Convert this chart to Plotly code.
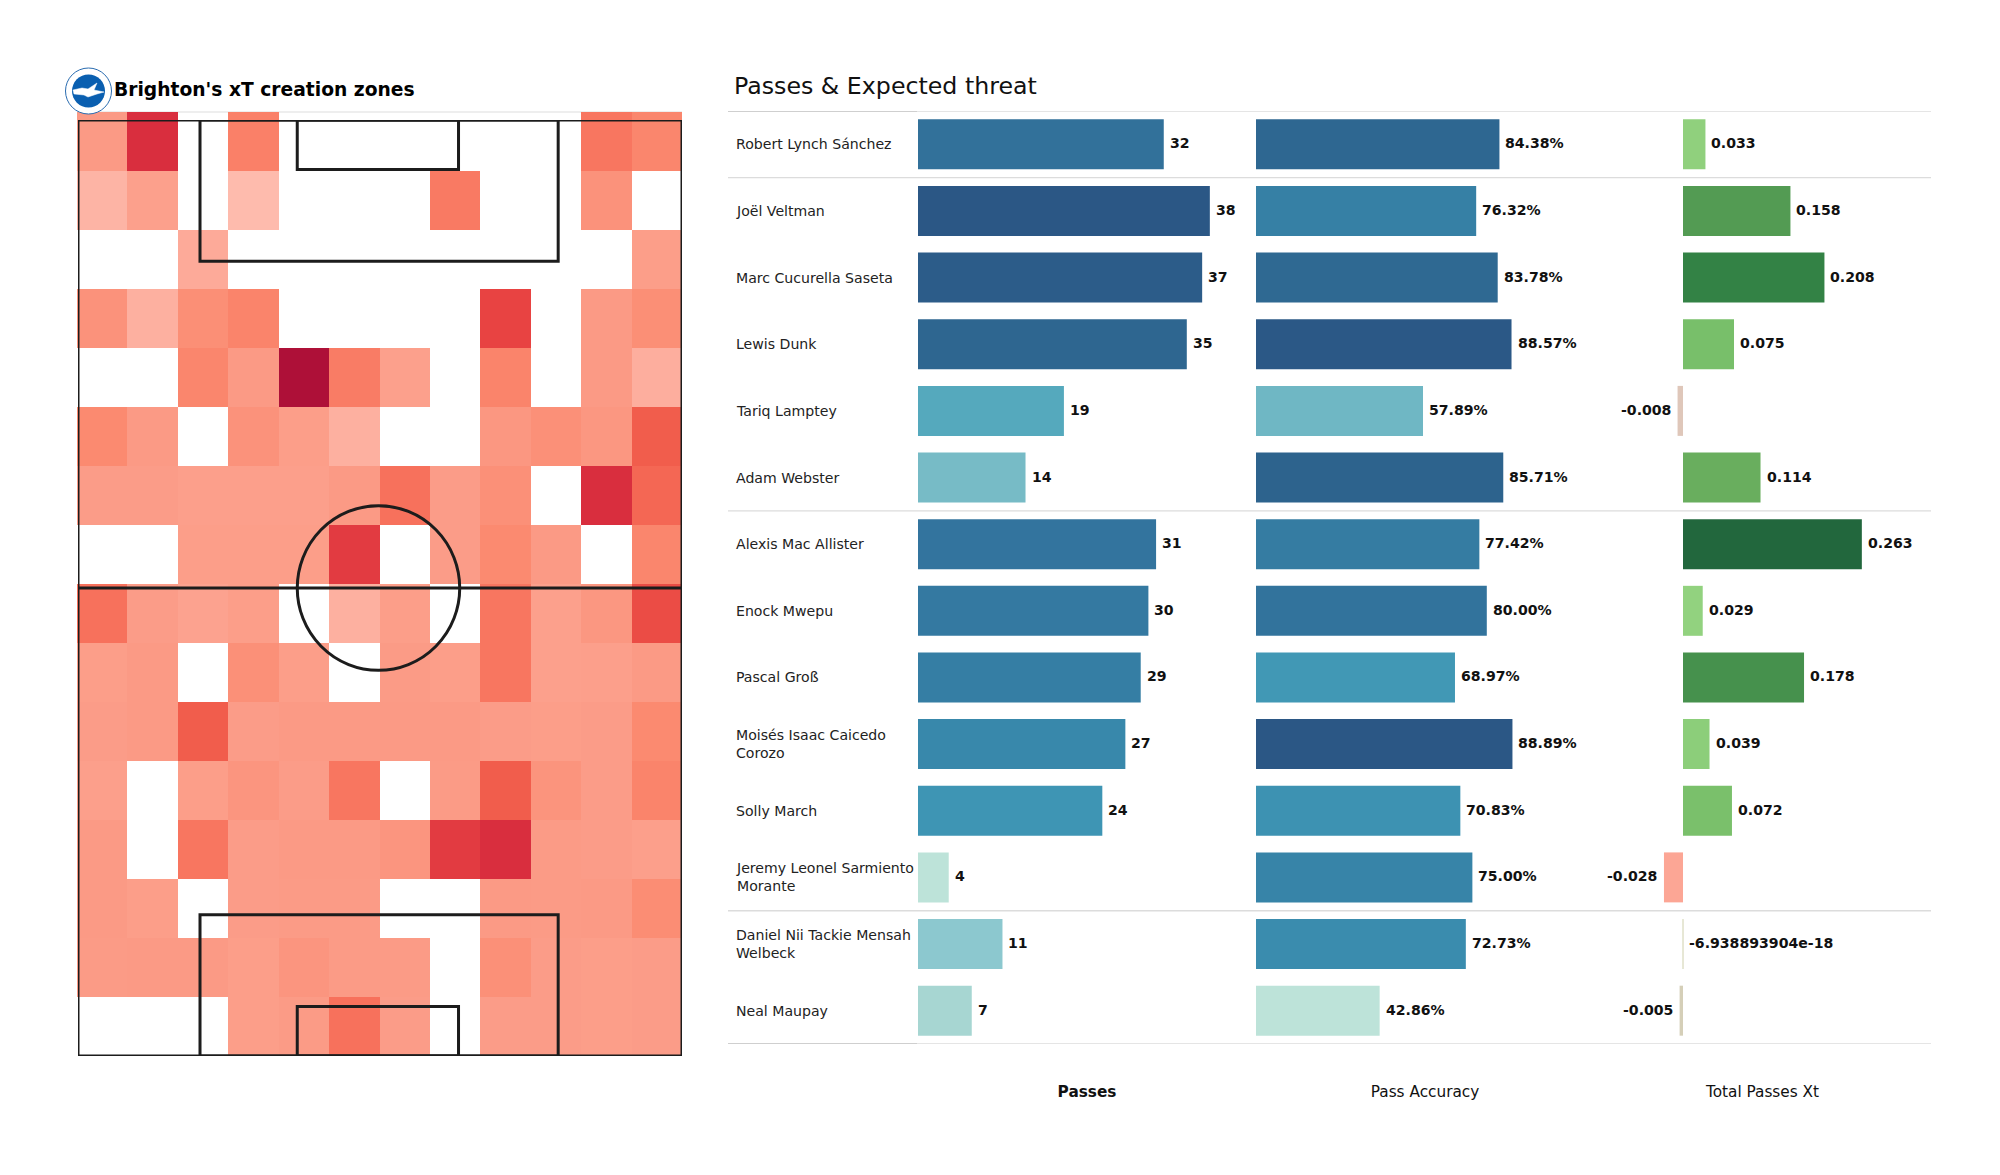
import plotly.graph_objects as go

W, H = 2000, 1175
PAGE_INSET = 8

players = ["Robert Lynch Sánchez", "Joël Veltman", "Marc Cucurella Saseta", "Lewis Dunk", "Tariq Lamptey",
           "Adam Webster", "Alexis Mac Allister", "Enock Mwepu", "Pascal Groß",
           "Moisés Isaac Caicedo<br>Corozo", "Solly March", "Jeremy Leonel Sarmiento<br>Morante",
           "Daniel Nii Tackie Mensah<br>Welbeck", "Neal Maupay"]
passes = [32, 38, 37, 35, 19, 14, 31, 30, 29, 27, 24, 4, 11, 7]
accuracy = [84.38, 76.32, 83.78, 88.57, 57.89, 85.71, 77.42, 80.00, 68.97, 88.89, 70.83, 75.00, 72.73, 42.86]
xt = [0.033, 0.158, 0.208, 0.075, -0.008, 0.114, 0.263, 0.029, 0.178, 0.039, 0.072, -0.028, -6.938893904e-18, -0.005]
column_titles = ["Passes", "Pass Accuracy", "Total Passes Xt"]
group_breaks = [-0.5, 0.5, 5.5, 11.5, 13.5]

N = None
heat = [
    [.30, .80, N, .45, N, N, N, N, N, N, .50, .42],
    [.15, .25, N, .12, N, N, N, .48, N, N, .35, N],
    [N, N, .20, N, N, N, N, N, N, N, N, .27],
    [.35, .17, .37, .43, N, N, N, N, .72, N, .30, .37],
    [N, N, .42, .30, 1.0, .47, .25, N, .43, N, .30, .18],
    [.40, .30, N, .35, .27, .17, N, N, .32, .36, .32, .60],
    [.28, .28, .26, .26, .26, .30, .52, .28, .36, N, .80, .56],
    [N, N, .27, .27, .27, .75, N, .28, .40, .30, N, .42],
    [.52, .28, .24, .27, N, .17, .27, N, .50, .25, .32, .68],
    [.27, .30, N, .36, .27, N, .29, .27, .50, .25, .26, .30],
    [.28, .30, .60, .28, .30, .30, .30, .30, .28, .27, .28, .40],
    [.26, N, .27, .33, .28, .50, N, .29, .60, .34, .28, .43],
    [.30, N, .50, .28, .30, .30, .33, .75, .80, .29, .28, .26],
    [.30, .27, N, .28, .29, .29, N, N, .30, .29, .30, .38],
    [.29, .30, .30, .27, .33, .29, .29, N, .36, .28, .27, .28],
    [N, N, N, .27, .29, .52, .28, N, .28, .28, .27, .28],
]

FONT = "DejaVu Sans"
TXT = "#111111"


def px(x):
    return (x - PAGE_INSET) / W


def py(y):
    return 1 - (y - PAGE_INSET) / H


blues = [[0, "#bde3d9"], [.088, "#a7d6d2"], [.206, "#8cc8cf"], [.294, "#77bbc6"], [.44, "#55a9bd"],
         [.59, "#3e95b4"], [.676, "#3888ab"], [.79, "#33759e"], [.91, "#2e6690"], [1, "#2b5785"]]
greens = [[0, "#fca695"], [.069, "#dfc7ba"], [.079, "#d5cfb8"], [.096, "#dfe0c8"], [.196, "#92d27f"],
          [.354, "#78bf6a"], [.488, "#69ae5e"], [.639, "#539b53"], [.811, "#338245"], [1, "#22673d"]]
reds = [[0, "#febbad"], [.12, "#febbad"], [.17, "#fdb0a0"], [.25, "#fca08c"], [.30, "#fb9a85"], [.40, "#fb8a70"],
        [.50, "#f87660"], [.60, "#f15d4c"], [.72, "#e84342"], [.80, "#d92e3e"], [1, "#ae1038"]]

fig = go.Figure()

fig.add_trace(go.Heatmap(z=heat, colorscale=reds, zmin=0, zmax=1, showscale=False, hoverongaps=False,
                         xaxis="x4", yaxis="y4"))
fig.add_trace(go.Scatter(x=[0, 100], y=[0, 100], mode="markers", marker=dict(opacity=0), showlegend=False,
                         hoverinfo="skip", xaxis="x5", yaxis="y5"))

fig.add_trace(go.Bar(y=players, x=passes, orientation="h", width=.75, showlegend=False,
                     marker=dict(color=passes, colorscale=blues, cmin=min(passes), cmax=max(passes),
                                 line=dict(width=0)), xaxis="x", yaxis="y"))
fig.add_trace(go.Bar(y=players, x=accuracy, orientation="h", width=.75, showlegend=False,
                     marker=dict(color=accuracy, colorscale=blues, cmin=min(accuracy), cmax=max(accuracy),
                                 line=dict(width=0)), xaxis="x2", yaxis="y"))
fig.add_trace(go.Bar(y=players, x=xt, orientation="h", width=.75, showlegend=False,
                     marker=dict(color=xt, colorscale=greens, cmin=min(xt), cmax=max(xt),
                                 line=dict(width=[1 if abs(v) < 1e-6 else 0 for v in xt], color="#dfe0c8")),
                     xaxis="x3", yaxis="y"))

ann = []
lab_font = dict(family=FONT, size=14.1, color=TXT, weight=700)
for i, p in enumerate(players):
    ann.append(dict(xref="paper", yref="y", x=px(734), y=i, text=p, showarrow=False, xanchor="left", align="left",
                    font=dict(family=FONT, size=14.1, color="#222222")))
    ann.append(dict(xref="x", yref="y", x=passes[i], y=i, text=str(passes[i]), showarrow=False, xanchor="left",
                    xshift=4, yshift=1, font=lab_font))
    ann.append(dict(xref="x2", yref="y", x=accuracy[i], y=i, text=f"{accuracy[i]:.2f}%", showarrow=False,
                    xanchor="left", xshift=4, yshift=1, font=lab_font))
    v = xt[i]
    tiny = abs(v) < 1e-6
    s = f"{v:.9e}" if tiny else f"{v:.3f}"
    if v < 0 and not tiny:
        ann.append(dict(xref="x3", yref="y", x=v, y=i, text=s, showarrow=False, xanchor="right", xshift=-5, yshift=1,
                        font=lab_font))
    else:
        ann.append(dict(xref="x3", yref="y", x=v, y=i, text=s, showarrow=False, xanchor="left", xshift=4, yshift=1,
                        font=lab_font))

ann.append(dict(xref="paper", yref="paper", x=px(112), y=py(89), text="Brighton's xT creation zones", showarrow=False,
                xanchor="left", yanchor="middle", font=dict(family=FONT, size=18.7, color="#000000", weight=700)))
ann.append(dict(xref="paper", yref="paper", x=px(732), y=py(86), text="Passes & Expected threat", showarrow=False,
                xanchor="left", yanchor="middle", font=dict(family=FONT, size=23.7, color="#111111")))

shapes = []
PITCH_W = 3


def pitch_rect(x0, y0, x1, y1):
    shapes.append(dict(type="rect", xref="x5", yref="y5", x0=x0, y0=y0, x1=x1, y1=y1,
                       line=dict(color="#1c1c1c", width=PITCH_W), fillcolor="rgba(0,0,0,0)", layer="above"))


pitch_rect(0, 0, 100, 100)
pitch_rect(20.2, 0, 79.5, 15.1)
pitch_rect(36.3, 0, 63, 5.3)
pitch_rect(20.2, 84.9, 79.5, 100)
pitch_rect(36.3, 94.7, 63, 100)
shapes.append(dict(type="line", xref="x5", yref="y5", x0=0, x1=100, y0=50, y1=50,
                   line=dict(color="#1c1c1c", width=PITCH_W), layer="above"))
shapes.append(dict(type="circle", xref="x5", yref="y5", x0=36.3, x1=63.2, y0=41.2, y1=58.8,
                   line=dict(color="#1c1c1c", width=PITCH_W), layer="above"))
shapes.append(dict(type="line", xref="paper", yref="paper", x0=px(77), x1=px(682), y0=py(112), y1=py(112),
                   line=dict(color="#dddddd", width=1.2), layer="below"))

for b in group_breaks:
    shapes.append(dict(type="line", xref="paper", yref="y", x0=px(728), x1=px(1931), y0=b, y1=b,
                       line=dict(color="#dcdcdc", width=1.4), layer="below"))
for b in (group_breaks[0], group_breaks[-1]):
    shapes.append(dict(type="line", xref="paper", yref="y", x0=px(728), x1=px(917), y0=b, y1=b,
                       line=dict(color="#cfcfcf", width=1.8), layer="below"))


def disc(cx, cy, r, fill, line=None, lw=0):
    shapes.append(dict(type="circle", xref="paper", yref="paper", x0=px(cx - r), x1=px(cx + r), y0=py(cy - r),
                       y1=py(cy + r), fillcolor=fill, line=dict(color=line or fill, width=lw), layer="above"))


disc(88.5, 91, 23, "#ffffff", "#2a6cb0", 1)
disc(88.5, 91, 16.5, "#0a5fb0")
gull = [(73, 90), (82, 88), (88, 89), (97, 83), (94, 90), (104, 92), (97, 94), (88, 97), (84, 95), (74, 94)]
path = "M " + " L ".join(f"{px(x):.5f} {py(y):.5f}" for x, y in gull) + " Z"
shapes.append(dict(type="path", xref="paper", yref="paper", path=path, fillcolor="#ffffff",
                   line=dict(color="#ffffff", width=.5), layer="above"))


def xax(x0, x1, rng, title, bold):
    return dict(domain=[px(x0), px(x1)], range=rng, anchor="y", showgrid=False, zeroline=False, showline=False,
                showticklabels=False, ticks="",
                title=dict(text=title, standoff=42,
                           font=dict(family=FONT, size=15.3, color=TXT, weight=700 if bold else 400)))


hidden = dict(showgrid=False, zeroline=False, showline=False, showticklabels=False, ticks="")

fig.update_layout(
    width=W, height=H, autosize=False, margin=dict(l=0, r=0, t=0, b=0),
    paper_bgcolor="#ffffff", plot_bgcolor="rgba(0,0,0,0)", showlegend=False, bargap=.25,
    font=dict(family=FONT),
    xaxis=xax(918, 1256, [0, 338 / 7.68], column_titles[0], True),
    xaxis2=xax(1256, 1594, [0, 338 / 2.885], column_titles[1], False),
    xaxis3=xax(1594, 1931, [-89 / 680, 248 / 680], column_titles[2], False),
    yaxis=dict(domain=[py(1044), py(111)], type="category", categoryorder="array", categoryarray=players,
               range=[13.5, -0.5], **hidden),
    xaxis4=dict(domain=[px(77), px(682)], range=[-.5, 11.5], anchor="y4", **hidden),
    yaxis4=dict(domain=[py(1056), py(112)], range=[15.5, -.5], anchor="x4", **hidden),
    xaxis5=dict(domain=[px(78), px(682)], range=[0, 100], anchor="y5", **hidden),
    yaxis5=dict(domain=[py(1056), py(120)], range=[100, 0], anchor="x5", **hidden),
    annotations=ann, shapes=shapes,
)

fig.write_html("out.html")
